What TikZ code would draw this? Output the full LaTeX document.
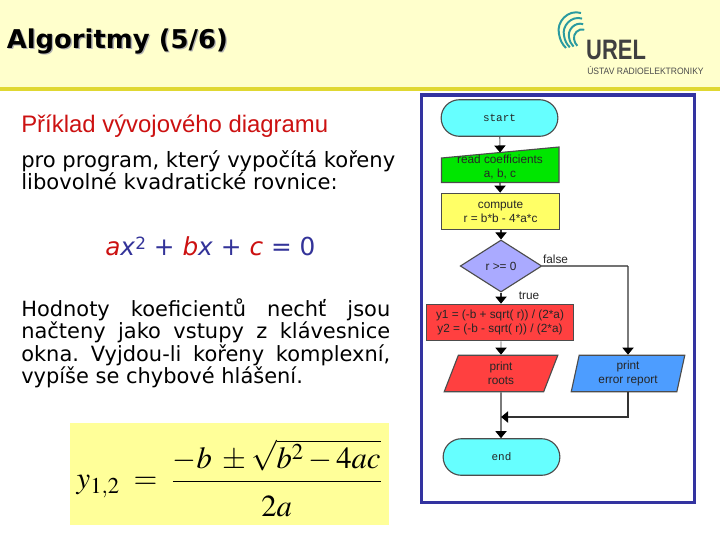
\documentclass[tikz,border=0pt]{standalone}
\usepackage{amsmath,mathptmx}
\usepackage{fontspec}
\setmainfont{DejaVu Sans}
\newfontfamily\arialfont{Liberation Sans}
\newfontfamily\monofont{Liberation Mono}
\usetikzlibrary{arrows.meta,calc,positioning,shapes.geometric,shapes.misc}
\definecolor{headfill}{HTML}{FFFFCC}
\definecolor{headrule}{HTML}{E0D832}
\definecolor{framecol}{HTML}{3333A0}
\definecolor{termfill}{HTML}{66FFFF}
\definecolor{readfill}{HTML}{00E600}
\definecolor{compfill}{HTML}{FFFF66}
\definecolor{testfill}{HTML}{AAAAFF}
\definecolor{rootfill}{HTML}{FF4040}
\definecolor{errfill}{HTML}{4D9DFF}
\definecolor{formfill}{HTML}{FFFF99}
\definecolor{logoteal}{HTML}{2A9AA0}
\definecolor{eqred}{HTML}{CC1111}
\definecolor{eqblue}{HTML}{333399}
\tikzset{
  flowbox/.style={draw=black!70,thick,inner sep=0pt,align=center,
    font=\arialfont\fontsize{8.4}{9.8}\selectfont,text=black!85},
  termbox/.style={flowbox,rounded rectangle,fill=termfill,minimum width=83pt,minimum height=26pt,
    font=\monofont\fontsize{7.8}{9}\selectfont},
  procbox/.style={flowbox,rectangle,minimum height=26pt},
  testbox/.style={flowbox,diamond,fill=testfill,minimum width=58pt,minimum height=37pt},
  iobox/.style={flowbox,trapezium,trapezium left angle=79,trapezium right angle=101,
    trapezium stretches=true,minimum width=81pt,minimum height=26pt},
  flowline/.style={draw=black!80,thick,-{Triangle[length=5pt,width=8pt,black]}},
  bodytext/.style={anchor=north west,inner sep=0pt,text=black}
}
\begin{document}
\begin{tikzpicture}[x=0.025cm,y=-0.025cm,>=Latex]
  \useasboundingbox (0,0) rectangle (720,540);
  \fill[white] (0,0) rectangle (720,540);
  \fill[headfill] (0,0) rectangle (720,87);
  \fill[headrule] (0,87) rectangle (720,90.5);
  % title with its shadow
  \node[anchor=west,inner sep=0pt,text=black!30,font=\bfseries\fontsize{18.4}{20}\selectfont] at (7.8,42.2) {Algoritmy (5/6)};
  \node[anchor=west,inner sep=0pt,font=\bfseries\fontsize{18.4}{20}\selectfont] (title) at (6.5,41) {Algoritmy (5/6)};
  % logo
  \foreach \s in {1,0.82,0.64,0.46}
    \draw[logoteal,line width=1.4pt,shift={(587,44)},scale=\s]
      (-6,-31) .. controls (-19,-35) and (-31,-22) .. (-28,-10) .. controls (-27,-4) and (-25,0) .. (-21,4);
  \node[anchor=west,inner sep=0pt,text=black!75,font=\arialfont\bfseries\fontsize{20}{22}\selectfont,xscale=0.78] (urel) at (586,49.5) {UREL};
  \node[anchor=west,inner sep=0pt,text=black!70,font=\arialfont\fontsize{6.6}{8}\selectfont,xscale=0.92] (ustav) at (587,71) {ÚSTAV RADIOELEKTRONIKY};
  % left column
  \node[bodytext,anchor=west,text=eqred,font=\arialfont\fontsize{17}{20}\selectfont] (intro) at (21,126) {Příklad vývojového diagramu};
  \node[bodytext,font=\fontsize{15}{14}\selectfont,align=left] (task) at (21,150) {pro program, který vypočítá kořeny\\libovolné kvadratické rovnice:};
  \node[anchor=west,inner sep=0pt,text=eqblue,font=\fontsize{17.6}{20}\selectfont] (eqn) at (105,246.5)
    {\textcolor{eqred}{\textit{a}}\textit{x}\raisebox{0.45ex}{\fontsize{12}{14}\selectfont 2} + \textcolor{eqred}{\textit{b}}\textit{x} + \textcolor{eqred}{\textit{c}} = 0};
  \node[bodytext,text width=369*0.025cm,align=justify,font=\frenchspacing\fontsize{14.9}{16.1}\selectfont] (note) at (21,298)
    {Hodnoty koeficientů nechť jsou načteny jako vstupy z klávesnice okna. Vyjdou-li kořeny komplexní, vypíše se chybové hlášení.};
  \fill[formfill] (70,423) rectangle (389,525);
  \node[font=\fontsize{21.8}{26}\selectfont] (formula) at (229.5,478)
    {$\displaystyle y_{1,2}\;=\;\frac{-b\;\pm\sqrt{b^{2}-4ac}}{\rule{0pt}{1em}2a}$};
  % flowchart
  \draw[framecol,line width=2.6pt] (421.5,95) rectangle (694.5,502.5);
  \node[termbox] (start) at (499.5,118) {start};
  \fill[readfill,draw=black!70,thick] (441.5,158) -- (559,147) -- (559,182.5) -- (441.5,182.5) -- cycle;
  \node[flowbox,draw=none] (read) at (500,167) {read coefficients\\a, b, c};
  \node[procbox,fill=compfill,minimum width=83.5pt] (compute) at (500.5,211.5) {compute\\r = b*b - 4*a*c};
  \node[testbox] (test) at (501,266) {r >= 0};
  \node[procbox,fill=rootfill,minimum width=104pt] (calc) at (500,322.5) {y1 = (-b + sqrt( r)) / (2*a)\\y2 = (-b - sqrt( r)) / (2*a)};
  \node[iobox,fill=rootfill] (roots) at (501,373.5) {print\\roots};
  \node[iobox,fill=errfill] (error) at (628,373.5) {print\\error report};
  \node[termbox,minimum width=83pt] (end) at (501.5,457) {end};
  \coordinate (bend) at (error.center |- test.east);
  \coordinate (join) at (501,417);
  \coordinate (readtop) at (500,152.5);
  \coordinate (readbot) at (500,182.5);
  \draw[flowline,draw=black!55] (start) -- (readtop);
  \draw[flowline] (readbot) -- (compute);
  \draw[flowline] (compute.south -| test.north) -- (test);
  \draw[flowline] (test) -- (calc.north -| test.south);
  \draw[flowline,draw=black!35] (calc.south -| test.south) -- (roots);
  \draw[draw=black!55,thick] (test.east) -- (bend);
  \draw[flowline] (bend) -- (error);
  \draw[flowline] (roots) -- (end.north -| roots.south);
  \draw[flowline] (error.south |- roots.south) |- (join);
  \node[font=\arialfont\fontsize{8.4}{9}\selectfont,text=black!85] (false) at (555.5,259.5) {false};
  \node[font=\arialfont\fontsize{8.4}{9}\selectfont,text=black!85] (true) at (529,296) {true};
\end{tikzpicture}
\end{document}
